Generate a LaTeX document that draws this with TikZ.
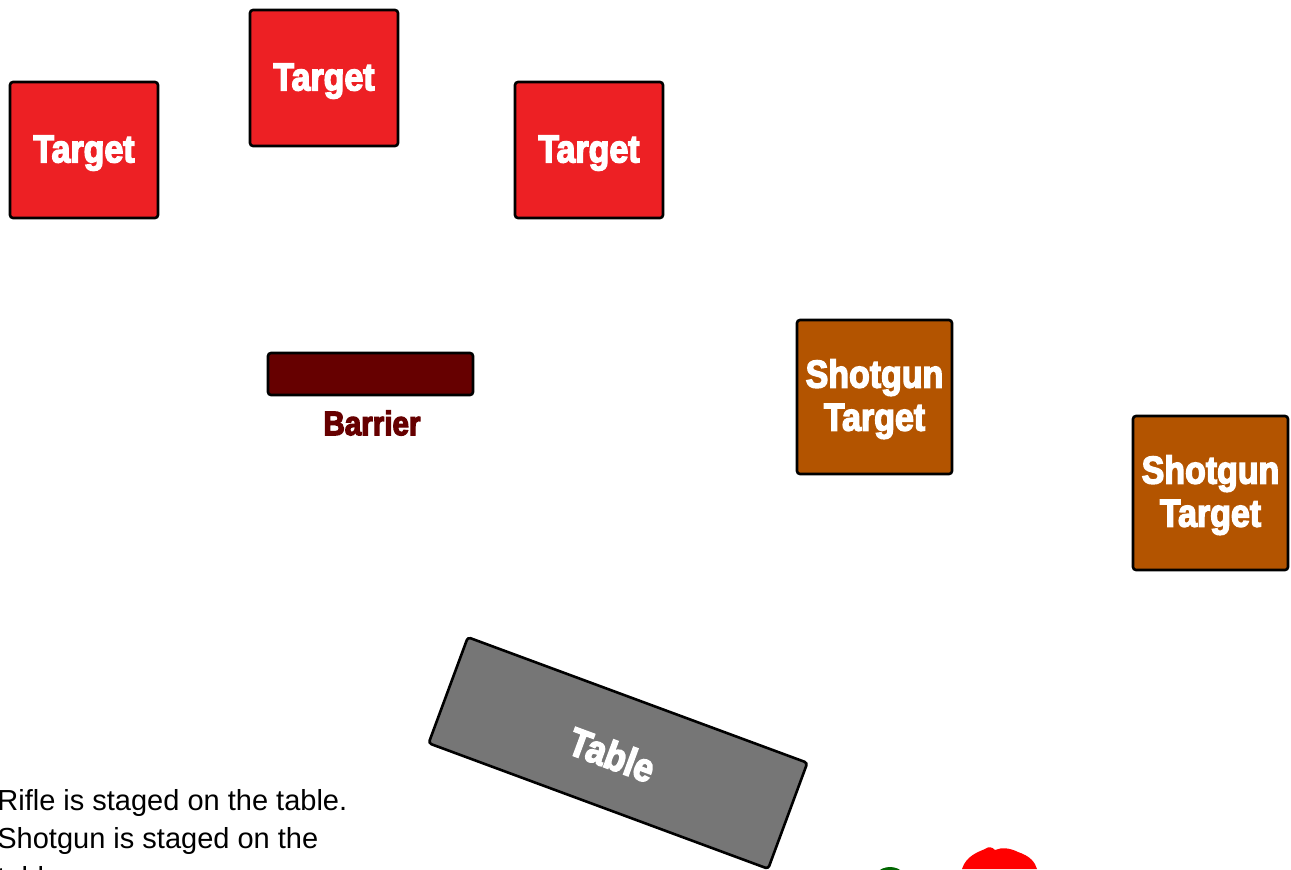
\documentclass[tikz,border=0pt]{standalone}
\usepackage{fontspec}
\setmainfont{Liberation Sans}
\newfontfamily\signfont[FakeStretch=0.87,FakeBold=3.6]{Liberation Sans Bold}
\definecolor{targetred}{HTML}{ED2024}
\definecolor{shotgunbrown}{HTML}{B35400}
\definecolor{barrierred}{HTML}{660000}
\definecolor{tablegrey}{HTML}{767676}
\tikzset{
  board/.style={rectangle, rounded corners=1.5pt, draw=black, line width=1.3pt, inner sep=0pt,
                align=center, text=white, text depth=0pt},
  targetbox/.style={board, fill=targetred, minimum width=74pt, minimum height=68pt,
                    text depth=1pt, font=\signfont\fontsize{19.5}{21.5}\selectfont},
  shotgunbox/.style={board, fill=shotgunbrown, minimum width=77.5pt, minimum height=77pt,
                     text depth=2pt, font=\signfont\fontsize{19.5}{21.5}\selectfont},
  barrierbox/.style={board, fill=barrierred, minimum width=102.5pt, minimum height=21pt},
  tablebox/.style={board, fill=tablegrey, minimum width=181pt, minimum height=56.5pt, rotate=-20.3,
                   text height=18pt, font=\signfont\fontsize{20}{22}\selectfont},
  lbl/.style={inner sep=0pt, font=\signfont\fontsize{17}{20}\selectfont, text=barrierred},
  note/.style={inner sep=0pt, align=left, anchor=north west, font=\fontsize{14.5}{19.25}\selectfont},
}
\begin{document}
\begin{tikzpicture}[x=0.5pt, y=-0.5pt]
  \useasboundingbox (0,0) rectangle (1291,869);
  \clip (0,0) rectangle (1291,869);
  % targets
  \node[targetbox] (target1) at (84,150) {Target};
  \node[targetbox] (target2) at (324,78) {Target};
  \node[targetbox] (target3) at (589,150) {Target};
  % barrier
  \node[barrierbox] (barrier) at (370.5,374) {};
  \node[lbl] (barrierlabel) at (372,423) {Barrier};
  % shotgun targets
  \node[shotgunbox] (shotgun1) at (874.5,397) {Shotgun\\Target};
  \node[shotgunbox] (shotgun2) at (1210.5,493) {Shotgun\\Target};
  % table
  \node[tablebox] (tablerect) at (618,753) {Table\hspace*{5pt}};
  % stage notes
  \node[note] (notes) at (-3,789) {Rifle is staged on the table.\\Shotgun is staged on the\\table.};
  % shooter
  \fill[green!40!black] (890,886) circle (19);
  \fill[red] (962,869) .. controls (966,856) and (978,852) .. (985,849) .. controls (989,846) and (992,847) .. (995,850)
    .. controls (1002,847) and (1010,848) .. (1018,852) .. controls (1030,856) and (1035,862) .. (1037,869) -- cycle;
\end{tikzpicture}
\end{document}
